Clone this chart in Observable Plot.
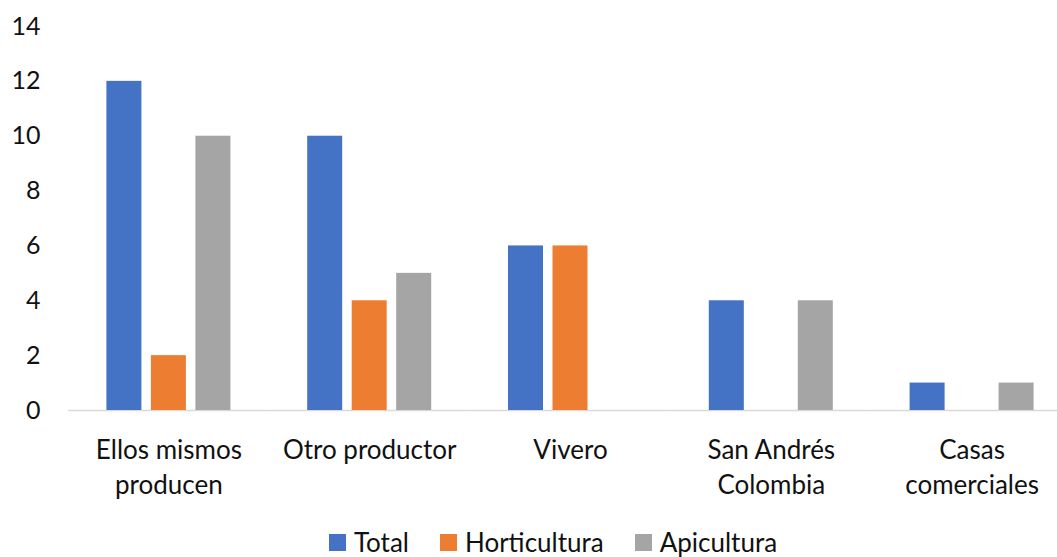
<!DOCTYPE html>
<html>
<head>
<meta charset="utf-8">
<script src="https://cdn.jsdelivr.net/npm/d3@7"></script>
<script src="https://cdn.jsdelivr.net/npm/@observablehq/plot@0.6"></script>
<style>
  html, body { margin: 0; padding: 0; background: #fff; }
  #chart { width: 1057px; height: 557px; overflow: hidden; font-family: Lato, "Noto Sans", sans-serif; }
  .legend { display: flex; justify-content: center; align-items: center; gap: 31px;
            height: 30px; padding-top: 12px; padding-left: 49px; font-size: 26px; line-height: 30px; color: #111; }
  .legend .item { display: flex; align-items: center; gap: 8px; }
  .legend .sw { width: 17px; height: 17px; display: inline-block; }
</style>
</head>
<body>
<div id="chart"></div>
<script>
// Source of supply by activity
const categories = ["Ellos mismos producen", "Otro productor", "Vivero", "San Andrés Colombia", "Casas comerciales"];
const tickLabels = ["Ellos mismos\nproducen", "Otro productor", "Vivero", "San Andrés\nColombia", "Casas\ncomerciales"];
const series = ["Total", "Horticultura", "Apicultura"];
const total = [12, 10, 6, 4, 1];
const horticultura = [2, 4, 6, 0, 0];
const apicultura = [10, 5, 0, 4, 1];
const colors = ["#4472C4", "#ED7D31", "#A5A5A5"];
const yTicks = [0, 2, 4, 6, 8, 10, 12, 14];

const values = [total, horticultura, apicultura];
const rows = [];
categories.forEach((c, i) => {
  series.forEach((s, j) => rows.push({category: c, series: s, value: values[j][i]}));
});
const labelOf = new Map(categories.map((c, i) => [c, tickLabels[i]]));

const plot = Plot.plot({
  width: 1057,
  height: 515,
  marginLeft: 68,
  marginRight: -15,
  marginTop: 26,
  marginBottom: 105,
  style: {fontFamily: "Lato, 'Noto Sans', sans-serif", fontSize: "25px", color: "#111", background: "#fff"},
  fx: {domain: categories, paddingInner: 0, paddingOuter: 0, round: false},
  x: {domain: series, paddingInner: 0.2135, paddingOuter: 0.863, round: false, axis: null},
  y: {domain: [0, 14]},
  color: {domain: series, range: colors},
  marks: [
    Plot.ruleY([0], {stroke: "#D9D9D9", strokeWidth: 1.5}),
    Plot.barY(rows, {fx: "category", x: "series", y: "value", fill: "series"}),
    Plot.axisY({ticks: yTicks, tickSize: 0, tickPadding: 28, label: null, fontSize: 25}),
    Plot.axisFx({anchor: "bottom", tickSize: 0, tickPadding: 23, label: null, fontSize: 26, lineHeight: 1.37,
                 tickFormat: (d) => labelOf.get(d)})
  ]
});

const root = document.getElementById("chart");
root.appendChild(plot);

const legend = d3.select(root).append("div").attr("class", "legend");
series.forEach((s, i) => {
  const item = legend.append("div").attr("class", "item");
  item.append("span").attr("class", "sw").style("background", colors[i]);
  item.append("span").text(s);
});
</script>
</body>
</html>
